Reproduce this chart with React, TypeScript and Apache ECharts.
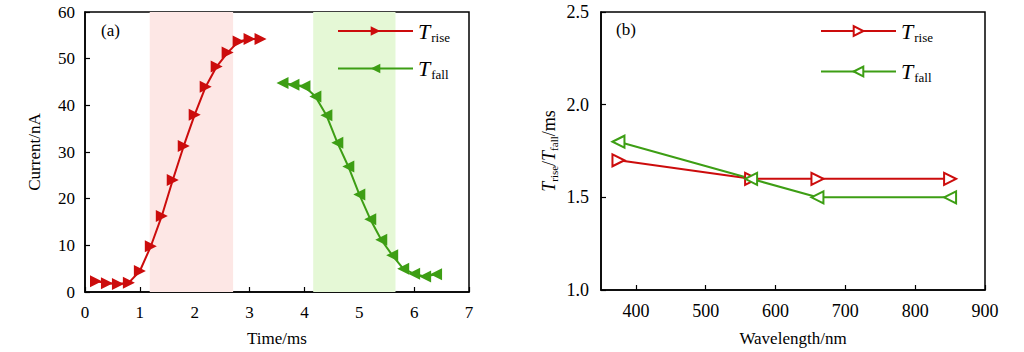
import React, { useEffect, useRef } from "react";
import * as echarts from "echarts";

// Panel (a): response current vs time
const riseTime = [0.2, 0.4, 0.6, 0.8, 1.0, 1.2, 1.4, 1.6, 1.8, 2.0, 2.2, 2.4, 2.6, 2.8, 3.0, 3.2];
const riseCurrent = [2.3, 1.9, 1.7, 2.0, 4.5, 9.8, 16.3, 24.0, 31.3, 38.0, 44.0, 48.3, 51.3, 53.7, 54.2, 54.2];
const fallTime = [3.6, 3.8, 4.0, 4.2, 4.4, 4.6, 4.8, 5.0, 5.2, 5.4, 5.6, 5.8, 6.0, 6.2, 6.4];
const fallCurrent = [44.8, 44.4, 44.1, 41.9, 37.9, 32.0, 26.9, 20.9, 15.6, 11.2, 7.9, 5.0, 3.9, 3.3, 3.8];
const riseWindow = [1.18, 2.7];
const fallWindow = [4.16, 5.66];

// Panel (b): rise / fall times vs wavelength
const wavelengths = [375, 565, 660, 850];
const tRise = [1.7, 1.6, 1.6, 1.6];
const tFall = [1.8, 1.6, 1.5, 1.5];
const wavelengthTicks = [400, 500, 600, 700, 800, 900];

const RED = "#cc0c0c";
const GREEN = "#3d9e14";
const FONT = "Liberation Serif";

const legendRich = {
  t: { fontFamily: FONT, fontStyle: "italic", fontWeight: "normal", fontSize: 22, color: "#000" },
  s: { fontFamily: FONT, fontWeight: "normal", fontSize: 13, color: "#000", padding: [12, 0, 0, 1] },
};

export default function App() {
  const ref = useRef<HTMLDivElement>(null);
  useEffect(() => {
    const chart = echarts.init(ref.current!, null, { renderer: "svg" });
    const axisLine = { show: true, lineStyle: { color: "#000", width: 1.5 } };
    const axisTick = { show: true, inside: true, length: 5, lineStyle: { color: "#000", width: 1.2 } };
    const axisLabel = { color: "#000", fontFamily: FONT, fontSize: 17, fontWeight: "normal" };
    const nameStyle = { color: "#000", fontFamily: FONT, fontSize: 17, fontWeight: "normal" };
    chart.setOption({
      animation: false,
      textStyle: { fontFamily: FONT, fontWeight: "normal" },
      grid: [
        { left: 85, width: 384, top: 12, height: 280, show: true, borderColor: "#000", borderWidth: 1.5 },
        { left: 601, width: 384, top: 12, height: 280, show: true, borderColor: "#000", borderWidth: 1.5 },
      ],
      xAxis: [
        {
          gridIndex: 0, type: "value", min: 0, max: 7, interval: 1,
          axisLine, axisTick, splitLine: { show: false },
          axisLabel: { ...axisLabel, margin: 12 },
          name: "Time/ms", nameLocation: "middle", nameGap: 38, nameTextStyle: nameStyle,
        },
        {
          gridIndex: 1, type: "value", min: 350, max: 900,
          axisLine, splitLine: { show: false },
          axisTick: { ...axisTick, customValues: wavelengthTicks },
          axisLabel: { ...axisLabel, fontSize: 18, margin: 12, customValues: wavelengthTicks },
          name: "Wavelength/nm", nameLocation: "middle", nameGap: 40, nameTextStyle: nameStyle,
        },
      ],
      yAxis: [
        {
          gridIndex: 0, type: "value", min: 0, max: 60, interval: 10,
          axisLine, axisTick, splitLine: { show: false },
          axisLabel: { ...axisLabel, margin: 10 },
          name: "Current/nA", nameLocation: "middle", nameGap: 42, nameTextStyle: nameStyle,
        },
        {
          gridIndex: 1, type: "value", min: 1.0, max: 2.5, interval: 0.5,
          axisLine, axisTick, splitLine: { show: false },
          axisLabel: { ...axisLabel, fontSize: 18, margin: 12, formatter: (v: number) => v.toFixed(1) },
          name: "{t|T}{s|rise}{n|/}{t|T}{s|fall}{n|/ms}", nameLocation: "middle", nameGap: 42,
          nameTextStyle: {
            ...nameStyle,
            rich: {
              t: { fontFamily: FONT, fontStyle: "italic", fontWeight: "normal", fontSize: 18, color: "#000" },
              s: { fontFamily: FONT, fontWeight: "normal", fontSize: 11, color: "#000", padding: [9, 0, 0, 0] },
              n: { fontFamily: FONT, fontWeight: "normal", fontSize: 18, color: "#000" },
            },
          },
        },
      ],
      legend: [
        {
          left: 332, top: 15, orient: "vertical", itemGap: 14, itemWidth: 75, itemHeight: 12,
          data: ["rise_a", "fall_a"],
          formatter: (n: string) => (n === "rise_a" ? "{t|T}{s|rise}" : "{t|T}{s|fall}"),
          textStyle: { rich: legendRich },
          selectedMode: false,
        },
        {
          left: 815, top: 15, orient: "vertical", itemGap: 17, itemWidth: 75, itemHeight: 12,
          data: ["rise_b", "fall_b"],
          formatter: (n: string) => (n === "rise_b" ? "{t|T}{s|rise}" : "{t|T}{s|fall}"),
          textStyle: { rich: legendRich },
          selectedMode: false,
        },
      ],
      graphic: [
        { type: "text", left: 101, top: 22, style: { text: "(a)", fontFamily: FONT, fontSize: 17, fill: "#000" } },
        { type: "text", left: 616, top: 21, style: { text: "(b)", fontFamily: FONT, fontSize: 17, fill: "#000" } },
      ],
      series: [
        {
          name: "rise_a", type: "line", xAxisIndex: 0, yAxisIndex: 0,
          data: riseTime.map((t, i) => [t, riseCurrent[i]]),
          symbol: "triangle", symbolRotate: -90, symbolSize: 12,
          itemStyle: { color: RED }, lineStyle: { color: RED, width: 2 },
          markArea: {
            silent: true,
            itemStyle: { color: "#fde7e5" },
            data: [[{ xAxis: riseWindow[0] }, { xAxis: riseWindow[1] }]],
          },
          z: 3,
        },
        {
          name: "fall_a", type: "line", xAxisIndex: 0, yAxisIndex: 0,
          data: fallTime.map((t, i) => [t, fallCurrent[i]]),
          symbol: "triangle", symbolRotate: 90, symbolSize: 12,
          itemStyle: { color: GREEN }, lineStyle: { color: GREEN, width: 2 },
          markArea: {
            silent: true,
            itemStyle: { color: "#e5f8d6" },
            data: [[{ xAxis: fallWindow[0] }, { xAxis: fallWindow[1] }]],
          },
          z: 3,
        },
        {
          name: "rise_b", type: "line", xAxisIndex: 1, yAxisIndex: 1,
          data: wavelengths.map((w, i) => [w, tRise[i]]),
          symbol: "emptyTriangle", symbolRotate: -90, symbolSize: 12,
          itemStyle: { color: RED, borderWidth: 2.5 }, lineStyle: { color: RED, width: 2 },
        },
        {
          name: "fall_b", type: "line", xAxisIndex: 1, yAxisIndex: 1,
          data: wavelengths.map((w, i) => [w, tFall[i]]),
          symbol: "emptyTriangle", symbolRotate: 90, symbolSize: 12,
          itemStyle: { color: GREEN, borderWidth: 2.5 }, lineStyle: { color: GREEN, width: 2 },
        },
      ],
    });
    return () => chart.dispose();
  }, []);
  return (
    <div
      ref={ref}
      style={{ position: "absolute", left: 0, top: 0, width: 1024, height: 352, background: "#fff" }}
    />
  );
}
